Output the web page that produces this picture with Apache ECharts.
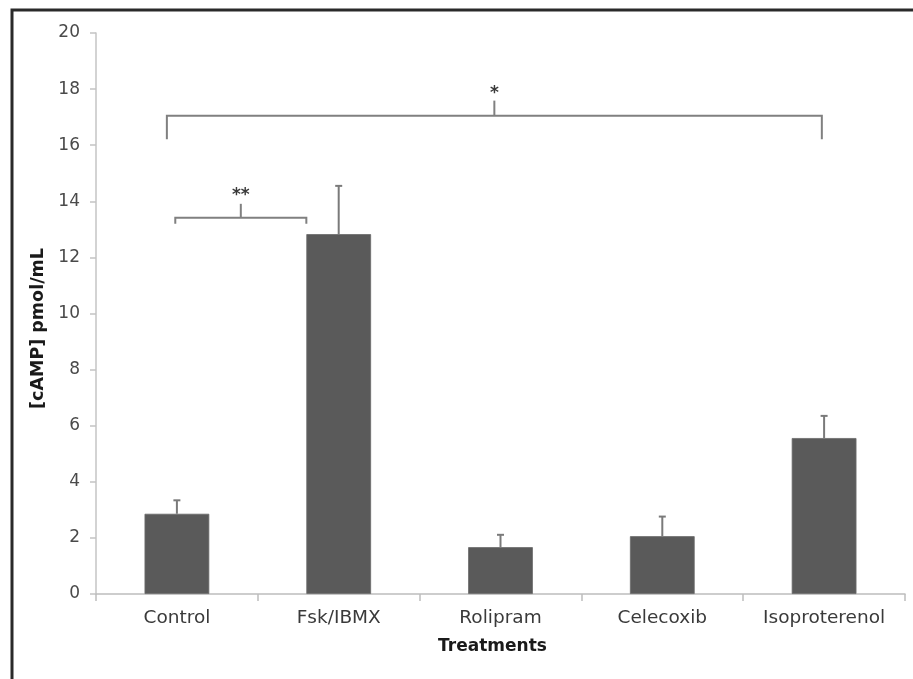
<!DOCTYPE html>
<html>
<head>
<meta charset="utf-8">
<script src="https://cdn.jsdelivr.net/npm/echarts@6/dist/echarts.min.js"></script>
<style>
  html, body { margin: 0; padding: 0; background: #fff; }
  #chart { width: 913px; height: 679px; }
</style>
</head>
<body>
<div id="chart"></div>
<script>
// Treatment groups and measured cAMP (mean and mean + error)
const categories = ['Control', 'Fsk/IBMX', 'Rolipram', 'Celecoxib', 'Isoproterenol'];
const means = [2.86, 12.83, 1.67, 2.06, 5.56];
const upperErrors = [3.34, 14.55, 2.11, 2.76, 6.35];

// Y axis range
const yMin = 0;
const yMax = 20;
const yStep = 2;

// Significance brackets: category span (index + fraction of a band), levels in pmol/mL
const bracketStartCat = [0, 0];
const bracketStartShift = [-0.062, -0.01];
const bracketEndCat = [4, 1];
const bracketEndShift = [-0.014, -0.2];
const bracketLevel = [17.05, 13.41];
const bracketDrop = [16.21, 13.2];
const bracketStem = [17.59, 13.91];
const bracketMarkY = [17.84, 14.22];
const bracketMarks = ['*', '**'];

const chart = echarts.init(document.getElementById('chart'), null, { renderer: 'canvas' });

const errorData = categories.map((c, i) => [i, means[i], upperErrors[i]]);
const bracketData = bracketMarks.map((m, i) => [
  bracketStartCat[i], bracketStartShift[i], bracketEndCat[i], bracketEndShift[i],
  bracketLevel[i], bracketDrop[i], bracketStem[i], bracketMarkY[i], i
]);

const option = {
  backgroundColor: '#ffffff',
  animation: false,
  grid: { left: 96, right: 8, top: 33, bottom: 85, containLabel: false },
  xAxis: {
    type: 'category',
    data: categories,
    name: 'Treatments',
    nameLocation: 'middle',
    nameGap: 44,
    nameTextStyle: {
      fontFamily: 'DejaVu Sans', fontWeight: 'bold', fontSize: 17, color: '#1a1a1a',
      padding: [0, 16, 0, 0]
    },
    axisLine: { lineStyle: { color: '#bdbdbd', width: 1.5 } },
    axisTick: { show: true, alignWithLabel: false, length: 7, lineStyle: { color: '#bdbdbd', width: 1.5 } },
    axisLabel: { fontFamily: 'DejaVu Sans', fontSize: 18.5, color: '#3a3a3a', margin: 15 }
  },
  yAxis: {
    type: 'value',
    min: yMin,
    max: yMax,
    interval: yStep,
    name: '[cAMP] pmol/mL',
    nameLocation: 'middle',
    nameGap: 39,
    nameTextStyle: {
      fontFamily: 'DejaVu Sans', fontWeight: 'bold', fontSize: 17.5, color: '#1a1a1a',
      padding: [0, 30, 0, 0]
    },
    axisLine: { show: true, lineStyle: { color: '#c4c4c4', width: 1.5 } },
    axisTick: { show: true, inside: false, length: 6, lineStyle: { color: '#c4c4c4', width: 1.5 } },
    splitLine: { show: false },
    axisLabel: { fontFamily: 'DejaVu Sans', fontSize: 17, color: '#4a4a4a', margin: 16 }
  },
  series: [
    {
      type: 'bar',
      data: means,
      barWidth: '40%',
      itemStyle: { color: '#5a5a5a', borderColor: '#6a6a6a', borderWidth: 0.8 },
      z: 2
    },
    {
      type: 'custom',
      data: errorData,
      encode: { x: 0, y: [1, 2] },
      z: 3,
      renderItem: function (params, api) {
        const i = api.value(0);
        const base = api.coord([i, api.value(1)]);
        const top = api.coord([i, api.value(2)]);
        const capHalf = 3.5;
        const style = { stroke: '#7a7a7a', lineWidth: 2 };
        return {
          type: 'group',
          children: [
            { type: 'line', shape: { x1: base[0], y1: base[1], x2: top[0], y2: top[1] }, style: style },
            { type: 'line', shape: { x1: top[0] - capHalf, y1: top[1], x2: top[0] + capHalf, y2: top[1] }, style: style }
          ]
        };
      }
    },
    {
      type: 'custom',
      data: bracketData,
      encode: { x: 0, y: 4 },
      clip: false,
      z: 4,
      renderItem: function (params, api) {
        const band = api.size([1, 0])[0];
        const xa = api.coord([api.value(0), api.value(4)])[0] + api.value(1) * band;
        const xb = api.coord([api.value(2), api.value(4)])[0] + api.value(3) * band;
        const yLevel = api.coord([0, api.value(4)])[1];
        const yDrop = api.coord([0, api.value(5)])[1];
        const yStem = api.coord([0, api.value(6)])[1];
        const yMark = api.coord([0, api.value(7)])[1];
        const xm = (xa + xb) / 2;
        const style = { stroke: '#808080', lineWidth: 2, fill: null };
        return {
          type: 'group',
          children: [
            { type: 'polyline', shape: { points: [[xa, yDrop], [xa, yLevel], [xb, yLevel], [xb, yDrop]] }, style: style },
            { type: 'line', shape: { x1: xm, y1: yLevel, x2: xm, y2: yStem }, style: style },
            {
              type: 'text',
              style: {
                x: xm, y: yMark,
                text: bracketMarks[api.value(8)],
                align: 'center', verticalAlign: 'middle',
                font: 'bold 17px "DejaVu Sans"', fill: '#3a3a3a'
              }
            }
          ]
        };
      }
    }
  ],
  graphic: [
    {
      type: 'polyline',
      shape: { points: [[12, 679], [12, 10], [913, 10]] },
      style: { stroke: '#2a2a2a', lineWidth: 3, fill: null },
      silent: true
    }
  ]
};

chart.setOption(option);
</script>
</body>
</html>
